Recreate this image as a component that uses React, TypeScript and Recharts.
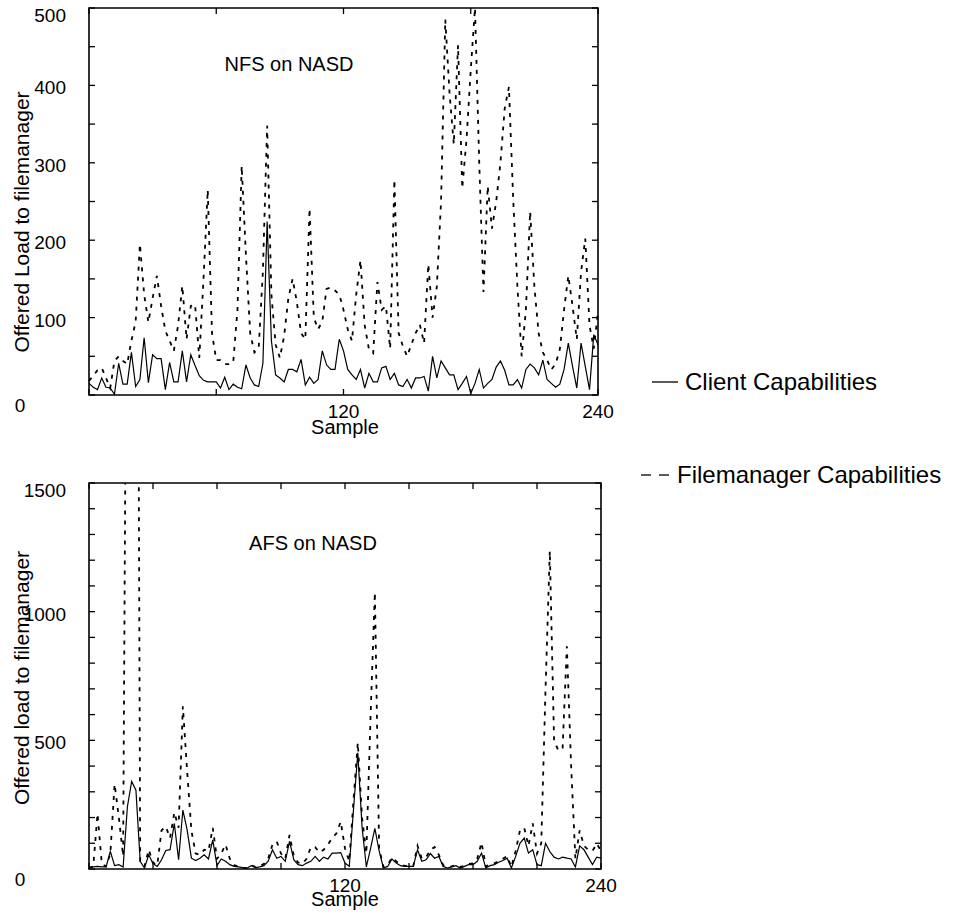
import React from 'react';
import { LineChart, Line, XAxis, YAxis, ReferenceArea } from 'recharts';

const sampleIndex = [
  0, 2, 4, 6, 8, 10, 12, 14, 16, 18, 20, 22, 24, 26, 28, 30, 32, 34, 36, 38,
  40, 42, 44, 46, 48, 50, 52, 54, 56, 58, 60, 62, 64, 66, 68, 70, 72, 74, 76, 78,
  80, 82, 84, 86, 88, 90, 92, 94, 96, 98, 100, 102, 104, 106, 108, 110, 112, 114, 116, 118,
  120, 122, 124, 126, 128, 130, 132, 134, 136, 138, 140, 142, 144, 146, 148, 150, 152, 154, 156, 158,
  160, 162, 164, 166, 168, 170, 172, 174, 176, 178, 180, 182, 184, 186, 188, 190, 192, 194, 196, 198,
  200, 202, 204, 206, 208, 210, 212, 214, 216, 218, 220, 222, 224, 226, 228, 230, 232, 234, 236, 238,
  240,
];

const nfsClient = [
  15, 10, 7, 22, 10, 9, 1, 41, 14, 14,
  55, 11, 20, 74, 16, 52, 47, 47, 7, 42,
  17, 17, 57, 17, 52, 38, 25, 19, 17, 17,
  17, 9, 23, 7, 14, 10, 8, 39, 22, 13,
  11, 41, 224, 70, 26, 22, 17, 33, 33, 30,
  46, 13, 23, 15, 20, 57, 39, 33, 33, 72,
  57, 33, 26, 20, 33, 9, 28, 17, 17, 35,
  37, 20, 28, 13, 11, 20, 9, 22, 22, 24,
  5, 50, 22, 44, 35, 26, 26, 7, 15, 24,
  2, 15, 33, 9, 15, 20, 36, 44, 32, 13,
  13, 20, 9, 33, 40, 35, 26, 45, 20, 15,
  10, 14, 33, 67, 37, 9, 67, 37, 7, 78,
  65,
];

const nfsFilemanager = [
  18, 25, 32, 35, 22, 9, 44, 50, 44, 40,
  70, 95, 195, 130, 94, 125, 154, 115, 83, 70,
  57, 90, 141, 72, 115, 117, 48, 150, 265, 80,
  45, 45, 40, 40, 42, 110, 296, 180, 80, 55,
  60, 160, 348, 130, 65, 48, 76, 125, 150, 120,
  80, 72, 241, 100, 85, 95, 137, 139, 135, 130,
  110, 85, 70, 130, 174, 90, 59, 54, 146, 110,
  115, 60, 278, 80, 63, 50, 65, 80, 91, 67,
  169, 100, 140, 250, 485, 390, 324, 452, 267, 330,
  420, 500, 300, 133, 270, 215, 250, 300, 370, 398,
  254, 140, 50, 110, 237, 140, 80, 55, 45, 33,
  40, 59, 110, 154, 115, 72, 159, 202, 90, 60,
  107,
];

const afsClient = [
  5, 8, 10, 8, 8, 68, 13, 17, 8, 242,
  340, 306, 30, 4, 55, 21, 10, 36, 72, 75,
  177, 36, 229, 152, 42, 33, 42, 55, 39, 113,
  13, 39, 30, 17, 10, 8, 5, 3, 13, 5,
  8, 13, 30, 75, 42, 49, 30, 107, 36, 17,
  13, 23, 30, 49, 30, 46, 39, 62, 62, 64,
  23, 10, 233, 452, 162, 8, 80, 158, 70, 4,
  10, 39, 23, 13, 10, 10, 10, 75, 30, 36,
  60, 42, 49, 10, 4, 8, 13, 4, 10, 17,
  17, 30, 62, 4, 13, 17, 26, 33, 42, 4,
  49, 100, 120, 62, 75, 17, 13, 100, 68, 46,
  39, 46, 42, 39, 8, 90, 75, 46, 17, 46,
  42,
];

const afsFilemanager = [
  5, 10, 215, 20, 10, 60, 330, 200, 50, 3000,
  3500, 4500, 30, 10, 75, 25, 15, 150, 165, 120,
  220, 160, 632, 381, 150, 60, 55, 75, 70, 160,
  40, 60, 95, 40, 15, 10, 5, 3, 15, 8,
  10, 20, 40, 95, 107, 60, 40, 132, 50, 25,
  20, 40, 85, 85, 64, 75, 95, 120, 139, 184,
  80, 30, 270, 491, 200, 60, 600, 1075, 80, 8,
  15, 45, 30, 18, 12, 12, 12, 90, 40, 45,
  75, 85, 55, 15, 8, 10, 15, 8, 12, 20,
  22, 40, 103, 10, 18, 22, 30, 40, 50, 8,
  70, 150, 160, 90, 177, 60, 100, 700, 1236, 500,
  460, 470, 865, 400, 40, 150, 90, 75, 70, 99,
  70,
];

const nfsXTicks = [0, 60, 120, 180, 240];
const afsXTicks = [0, 30, 60, 90, 120, 150, 180, 210, 240];
const xLabelled = [120, 240];
const nfsYTicks = [0, 50, 100, 150, 200, 250, 300, 350, 400, 450, 500];
const afsYTicks = [0, 100, 200, 300, 400, 500, 600, 700, 800, 900, 1000, 1100, 1200, 1300, 1400, 1500];

const FONT = '"Liberation Sans", Arial, Helvetica, sans-serif';
const TICK_FS = 19;

function buildRows(client: number[], fm: number[]) {
  return sampleIndex.map((s, i) => ({ s, client: client[i], fm: fm[i] }));
}

function makeXTick(plotTop: number) {
  return (props: any) => {
    const { x, y, payload } = props;
    const v = payload.value;
    return (
      <g>
        <line x1={x} x2={x} y1={y} y2={y - 6} stroke="#000" strokeWidth={1.3} />
        <line x1={x} x2={x} y1={plotTop} y2={plotTop + 6} stroke="#000" strokeWidth={1.3} />
        {xLabelled.includes(v) && (
          <text x={x} y={y + 23} textAnchor="middle" fontSize={TICK_FS} fontFamily={FONT} fill="#000">
            {v}
          </text>
        )}
      </g>
    );
  };
}

function makeYTick(plotRight: number, labelStep: number, maxVal: number) {
  return (props: any) => {
    const { x, y, payload } = props;
    const v = payload.value;
    const extra = v === 0 ? 10 : v === maxVal ? 7 : 2;
    const isZero = v === 0;
    return (
      <g>
        <line x1={x} x2={x + 6} y1={y} y2={y} stroke="#000" strokeWidth={1.3} />
        <line x1={plotRight} x2={plotRight - 6} y1={y} y2={y} stroke="#000" strokeWidth={1.3} />
        {v % labelStep === 0 && (
          <text
            x={isZero ? 20 : x - 23}
            y={y + 7 + extra}
            textAnchor={isZero ? 'middle' : 'end'}
            fontSize={TICK_FS}
            fontFamily={FONT}
            fill="#000"
          >
            {v}
          </text>
        )}
      </g>
    );
  };
}

type PanelProps = {
  rows: { s: number; client: number; fm: number }[];
  top: number;
  width: number;
  height: number;
  margin: { top: number; right: number; bottom: number; left: number };
  yMax: number;
  yTicks: number[];
  labelStep: number;
  xTicks: number[];
};

function Panel(p: PanelProps) {
  const plotTop = p.margin.top;
  const plotRight = p.width - p.margin.right;
  return (
    <div style={{ position: 'absolute', left: 0, top: p.top }}>
      <LineChart width={p.width} height={p.height} data={p.rows} margin={p.margin}>
        <XAxis
          dataKey="s"
          type="number"
          domain={[0, 240]}
          ticks={p.xTicks}
          interval={0}
          axisLine={false}
          tickLine={false}
          tickSize={0}
          tickMargin={0}
          height={40}
          tick={makeXTick(plotTop)}
        />
        <YAxis
          type="number"
          domain={[0, p.yMax]}
          ticks={p.yTicks}
          interval={0}
          allowDataOverflow
          axisLine={false}
          tickLine={false}
          tickSize={0}
          tickMargin={0}
          width={89}
          tick={makeYTick(plotRight, p.labelStep, p.yMax)}
        />
        <ReferenceArea x1={0} x2={240} y1={0} y2={p.yMax} fill="none" stroke="#000" strokeWidth={1.6} />
        <Line
          type="linear"
          dataKey="fm"
          stroke="#000"
          strokeWidth={1.8}
          strokeDasharray="4 6"
          dot={false}
          isAnimationActive={false}
        />
        <Line
          type="linear"
          dataKey="client"
          stroke="#000"
          strokeWidth={1.2}
          dot={false}
          isAnimationActive={false}
        />
      </LineChart>
    </div>
  );
}

export default function App() {
  const nfsRows = buildRows(nfsClient, nfsFilemanager);
  const afsRows = buildRows(afsClient, afsFilemanager);
  const txt = { fontFamily: FONT, fill: '#000' } as const;
  return (
    <div
      style={{
        position: 'absolute',
        left: 0,
        top: 0,
        width: 961,
        height: 920,
        background: '#fff',
        fontFamily: FONT,
      }}
    >
      <Panel
        rows={nfsRows}
        top={0}
        width={620}
        height={440}
        margin={{ top: 8, right: 22, bottom: 5, left: 0 }}
        yMax={500}
        yTicks={nfsYTicks}
        labelStep={100}
        xTicks={nfsXTicks}
      />
      <Panel
        rows={afsRows}
        top={470}
        width={620}
        height={440}
        margin={{ top: 13, right: 19, bottom: 1, left: 0 }}
        yMax={1500}
        yTicks={afsYTicks}
        labelStep={500}
        xTicks={afsXTicks}
      />
      <svg
        width={961}
        height={920}
        style={{ position: 'absolute', left: 0, top: 0, pointerEvents: 'none' }}
      >
        <text x={289} y={71} textAnchor="middle" fontSize={20} {...txt}>NFS on NASD</text>
        <text x={313} y={550} textAnchor="middle" fontSize={20} {...txt}>AFS on NASD</text>
        <text x={345} y={434} textAnchor="middle" fontSize={20} {...txt}>Sample</text>
        <text x={345} y={906} textAnchor="middle" fontSize={20} {...txt}>Sample</text>
        <text
          x={0}
          y={0}
          transform="translate(29 222) rotate(-90)"
          textAnchor="middle"
          fontSize={21}
          {...txt}
        >
          Offered Load to filemanager
        </text>
        <text
          x={0}
          y={0}
          transform="translate(29 678) rotate(-90)"
          textAnchor="middle"
          fontSize={21}
          {...txt}
        >
          Offered load to filemanager
        </text>
        <line x1={652} x2={678} y1={382} y2={382} stroke="#000" strokeWidth={1.3} />
        <text x={685} y={390} fontSize={24} {...txt}>Client Capabilities</text>
        <line x1={641} x2={651} y1={475} y2={475} stroke="#000" strokeWidth={1.3} />
        <line x1={659} x2={669} y1={475} y2={475} stroke="#000" strokeWidth={1.3} />
        <text x={677} y={483} fontSize={24} {...txt}>Filemanager Capabilities</text>
      </svg>
    </div>
  );
}
